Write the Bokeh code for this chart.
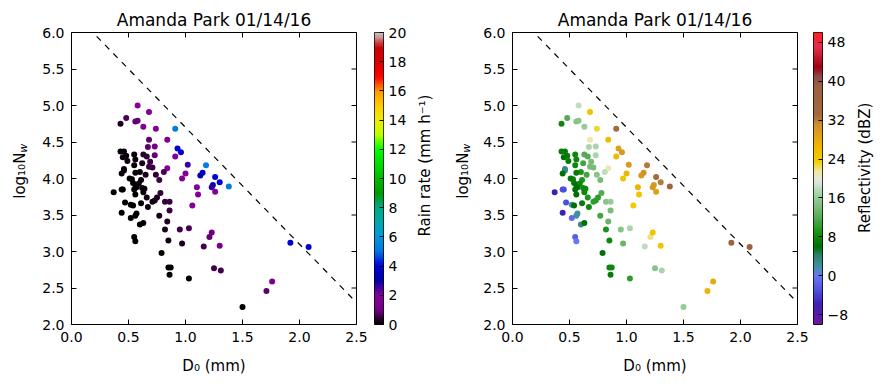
import numpy as np
from bokeh.plotting import figure
from bokeh.models import (ColumnDataSource, LinearColorMapper, FixedTicker,
                          PrintfTickFormatter, CustomJSTickFormatter, Range1d)
from bokeh.core.properties import value
from bokeh.layouts import row
from bokeh.embed import file_html
from bokeh.resources import INLINE

TITLE = "Amanda Park 01/14/16"
Y_LABEL = "log\u2081\u2080N"
Y_LABEL_SUB = "w"
X_LABEL = "D\u2080 (mm)"
RR_LABEL = "Rain rate (mm h\u207b\u00b9)"
Z_LABEL = "Reflectivity (dBZ)"

d0 = [0.58, 0.68, 0.48, 0.43, 0.56, 0.58, 0.63, 0.74, 0.91, 0.68, 0.84, 0.67, 0.73, 0.93, 0.96,
      0.43, 0.46, 0.48, 0.45, 0.49, 0.55, 0.56, 0.63, 0.66, 0.73, 0.91, 0.62, 0.69, 0.68, 0.71,
      0.55, 1.02, 1.18, 0.84, 0.46, 0.46, 0.60, 0.44, 0.56, 0.65, 0.74, 0.81, 1.00, 1.15, 1.13,
      0.51, 0.53, 0.61, 0.77, 0.97, 0.54, 0.56, 0.59, 0.62, 0.64, 0.63, 0.37, 0.44, 0.45, 0.55,
      0.57, 1.10, 1.11, 0.78, 0.56, 0.66, 0.73, 1.26, 1.30, 1.38, 1.24, 1.23, 1.26, 1.06, 0.44,
      0.47, 0.52, 0.54, 0.61, 0.67, 0.71, 0.82, 0.86, 0.52, 0.56, 0.57, 0.60, 0.63, 0.77, 0.86,
      0.84, 0.82, 0.95, 1.03, 0.85, 0.97, 0.55, 0.56, 0.79, 1.21, 1.23, 1.16, 1.30, 1.92, 2.08,
      0.85, 0.87, 0.86, 1.03, 1.25, 1.31, 1.50, 1.71, 1.76, 0.75]

log_nw = [5.00, 4.91, 4.83, 4.75, 4.78, 4.79, 4.71, 4.68, 4.68, 4.53, 4.53, 4.43, 4.44, 4.41, 4.36,
          4.37, 4.37, 4.31, 4.29, 4.24, 4.33, 4.26, 4.33, 4.30, 4.32, 4.30, 4.21, 4.23, 4.16, 4.15,
          4.18, 4.19, 4.18, 4.14, 4.13, 4.11, 4.09, 4.07, 4.08, 4.05, 4.05, 4.09, 4.07, 4.08, 4.04,
          4.00, 3.99, 3.98, 3.98, 4.00, 3.94, 3.91, 3.93, 3.87, 3.86, 3.81, 3.81, 3.85, 3.85, 3.85,
          3.88, 3.88, 3.78, 3.80, 3.78, 3.74, 3.70, 4.02, 3.95, 3.89, 3.91, 3.88, 3.82, 3.63, 3.53,
          3.67, 3.64, 3.63, 3.66, 3.61, 3.68, 3.68, 3.68, 3.46, 3.49, 3.52, 3.37, 3.39, 3.49, 3.56,
          3.41, 3.30, 3.30, 3.32, 3.15, 3.11, 3.20, 3.14, 2.98, 3.20, 3.26, 3.07, 3.08, 3.12, 3.06,
          2.78, 2.78, 2.68, 2.63, 2.77, 2.74, 2.24, 2.46, 2.59, 3.74]

rain_rate = [2.0, 1.8, 0.7, 0.3, 0.8, 0.9, 1.5, 1.7, 5.3, 0.8, 1.6, 0.8, 1.2, 3.8, 3.6,
             0.1, 0.1, 0.1, 0.1, 0.1, 0.1, 0.1, 0.4, 0.4, 0.9, 1.8, 0.3, 0.5, 0.5, 0.5,
             0.1, 2.6, 5.3, 1.8, 0.1, 0.1, 0.1, 0.1, 0.1, 0.3, 0.4, 0.7, 1.8, 3.8, 3.2,
             0.05, 0.05, 0.1, 0.6, 1.8, 0.05, 0.05, 0.1, 0.1, 0.1, 0.1, 0.05, 0.05, 0.05, 0.05,
             0.05, 1.8, 1.8, 0.5, 0.05, 0.2, 0.3, 4.0, 4.0, 5.3, 3.2, 2.8, 1.8, 1.8, 0.05,
             0.05, 0.05, 0.05, 0.05, 0.2, 0.2, 0.5, 0.5, 0.05, 0.05, 0.05, 0.05, 0.05, 0.2, 0.5,
             0.3, 0.3, 0.6, 0.7, 0.2, 0.3, 0.05, 0.05, 0.05, 0.9, 1.0, 0.6, 1.2, 3.8, 3.8,
             0.05, 0.05, 0.05, 0.05, 0.6, 0.6, 0.05, 0.8, 1.3, 0.3]

reflectivity = [18, 25, 12, 8, 15, 15, 16, 23, 33, 21, 26, 17, 17, 29, 30,
                7, 7, 7, 6, 7, 8, 8, 12, 12, 17, 26, 11, 14, 14, 14,
                8, 30, 32, 21, 3, 3, 9, 6, 7, 11, 15, 18, 27, 31, 30,
                7, 7, 9, 14, 25, 7, 6, 8, 8, 8, 8, -6, -3, -3, 6,
                6, 27, 25, 12, 6, 9, 10, 33, 32, 35, 30, 30, 29, 24, -6,
                -3, 2, 6, 7, 8, 10, 15, 16, -1, 2, 2, 3, 6, 11, 14,
                13, 9, 15, 17, 8, 13, -2, 0, 6, 22, 25, 18, 25, 37, 38,
                8, 8, 7, 10, 15, 17, 16, 27, 28, 10]

x_ticks = [0.0, 0.5, 1.0, 1.5, 2.0, 2.5]
y_ticks = [2.0, 2.5, 3.0, 3.5, 4.0, 4.5, 5.0, 5.5, 6.0]
rr_ticks = [0, 2, 4, 6, 8, 10, 12, 14, 16, 18, 20]
z_ticks = [-8, 0, 8, 16, 24, 32, 40, 48]
X_RANGE = (0, 2.5)
Y_RANGE = (2, 6)
RR_RANGE = (0, 20)
Z_RANGE = (-10, 50)
LINE_INTERCEPT = 6.3
LINE_SLOPE = -1.6

FONT = "DejaVu Sans"
H = 384
TOP, BOTTOM = 32, 60
FRAME_H = H - TOP - BOTTOM
FRAME_W = 285

SPECTRAL_STOPS = [
    (0.00, 0.0, 0.0, 0.0), (0.05, 0.4667, 0.0, 0.5333), (0.10, 0.5333, 0.0, 0.6),
    (0.15, 0.0, 0.0, 0.6667), (0.20, 0.0, 0.0, 0.8667), (0.25, 0.0, 0.4667, 0.8667),
    (0.30, 0.0, 0.6, 0.8667), (0.35, 0.0, 0.6667, 0.6667), (0.40, 0.0, 0.6667, 0.5333),
    (0.45, 0.0, 0.6, 0.0), (0.50, 0.0, 0.7333, 0.0), (0.55, 0.0, 0.8667, 0.0),
    (0.60, 0.0, 1.0, 0.0), (0.65, 0.7333, 1.0, 0.0), (0.70, 0.9333, 0.9333, 0.0),
    (0.75, 1.0, 0.8, 0.0), (0.80, 1.0, 0.6, 0.0), (0.85, 1.0, 0.0, 0.0),
    (0.90, 0.8667, 0.0, 0.0), (0.95, 0.8, 0.0, 0.0), (1.00, 0.8, 0.8, 0.8)]


def hx(h):
    h = h.lstrip("#")
    return tuple(int(h[i:i + 2], 16) / 255 for i in (0, 2, 4))


REFL_HEX = [(-10, "#6a1a9a"), (-6, "#4020b0"), (-3, "#5050e0"), (0, "#6a78f0"),
            (2, "#4090a0"), (4, "#308070"), (6, "#007000"), (8.5, "#109010"),
            (12.5, "#60b060"), (16.5, "#a0d0a0"), (19.5, "#e0e8e0"), (21.5, "#f0e8a0"),
            (23.5, "#f0d000"), (26.5, "#f0b800"), (31, "#d09030"), (33, "#a06a40"),
            (39, "#9a6040"), (41, "#8a4a50"), (43, "#a00010"), (47, "#e03050"),
            (50, "#ff2020")]
REFL_STOPS = [((v - Z_RANGE[0]) / (Z_RANGE[1] - Z_RANGE[0]),) + hx(c) for v, c in REFL_HEX]


def build_palette(stops, n=256):
    pos = np.array([s[0] for s in stops])
    t = np.linspace(0, 1, n)
    chans = [np.interp(t, pos, np.array([s[i] for s in stops])) for i in (1, 2, 3)]
    return ["#%02x%02x%02x" % (int(round(r * 255)), int(round(g * 255)), int(round(b * 255)))
            for r, g, b in zip(*chans)]


def style_axis(ax, size="14px"):
    ax.axis_line_color = None
    ax.major_tick_in = 5
    ax.major_tick_out = 0
    ax.minor_tick_line_color = None
    ax.major_tick_line_color = "black"
    ax.major_label_text_font_size = size
    ax.major_label_text_font = FONT
    ax.major_label_text_color = "black"


def scatter_panel(values, mapper, border_left, border_right):
    src = ColumnDataSource(dict(x=d0, y=log_nw, c=values))
    p = figure(frame_width=FRAME_W, frame_height=FRAME_H, output_backend="svg",
               toolbar_location=None, x_range=Range1d(*X_RANGE), y_range=Range1d(*Y_RANGE),
               min_border_left=border_left, min_border_right=border_right,
               min_border_top=TOP, min_border_bottom=BOTTOM, title=TITLE)
    p.title.align = "center"
    p.title.text_font_size = "17px"
    p.title.text_font_style = "normal"
    p.title.text_font = FONT
    p.title.text_color = "black"
    p.title.standoff = 6
    p.outline_line_color = "black"
    p.outline_line_alpha = 1
    p.xgrid.visible = False
    p.ygrid.visible = False
    p.xaxis.ticker = FixedTicker(ticks=x_ticks)
    p.yaxis.ticker = FixedTicker(ticks=y_ticks)
    p.xaxis.formatter = PrintfTickFormatter(format="%.1f")
    p.yaxis.formatter = PrintfTickFormatter(format="%.1f")
    style_axis(p.xaxis[0])
    style_axis(p.yaxis[0])
    p.xaxis.major_label_standoff = 7
    p.yaxis.major_label_standoff = 7
    p.xaxis.axis_label = X_LABEL
    p.xaxis.axis_label_text_font_style = "normal"
    p.xaxis.axis_label_text_font_size = "15px"
    p.xaxis.axis_label_text_font = FONT
    p.xaxis.axis_label_text_color = "black"
    p.xaxis.axis_label_standoff = 12
    # inward tick marks on the top and right edges
    p.scatter(x_ticks, [Y_RANGE[1]] * len(x_ticks), marker="dash", angle=np.pi / 2, size=10,
              line_color="black", line_width=1)
    p.scatter([X_RANGE[1]] * len(y_ticks), y_ticks, marker="dash", size=10,
              line_color="black", line_width=1)
    lx = np.array(X_RANGE)
    p.line(lx, LINE_INTERCEPT + LINE_SLOPE * lx, line_color="black", line_dash="6 6",
           line_width=1.2)
    p.scatter("x", "y", source=src, size=6, line_color=None,
              fill_color={"field": "c", "transform": mapper})
    return p


def colorbar_fig(mapper, vrange, ticks, formatter, border_left, border_right):
    cb = figure(frame_width=9, frame_height=FRAME_H, output_backend="svg", toolbar_location=None,
                x_range=Range1d(0, 1), y_range=Range1d(*vrange), x_axis_type=None,
                y_axis_location="right", min_border_left=border_left,
                min_border_right=border_right, min_border_top=TOP, min_border_bottom=BOTTOM)
    grad = np.linspace(vrange[0], vrange[1], 256).reshape(256, 1)
    cb.image(image=[grad], x=0, y=vrange[0], dw=1, dh=vrange[1] - vrange[0], color_mapper=mapper)
    cb.outline_line_color = "black"
    cb.grid.visible = False
    cb.yaxis.ticker = FixedTicker(ticks=ticks)
    cb.yaxis.formatter = formatter
    style_axis(cb.yaxis[0])
    cb.yaxis.major_tick_in = 4
    cb.yaxis.major_label_standoff = 5
    return cb


def text_fig(width, items):
    f = figure(width=width, height=H, output_backend="svg", toolbar_location=None,
               x_range=Range1d(0, width), y_range=Range1d(0, H), x_axis_type=None,
               y_axis_type=None, min_border=0)
    f.outline_line_color = None
    f.grid.visible = False
    for (x, y_from_top, txt, size, align, style) in items:
        f.text(x=[x], y=[H - y_from_top], text=[txt], angle=np.pi / 2,
               text_font=value(FONT), text_font_size=value(size), text_align=align,
               text_baseline="middle", text_font_style=style, text_color="black")
    return f


rr_mapper = LinearColorMapper(palette=build_palette(SPECTRAL_STOPS), low=RR_RANGE[0],
                              high=RR_RANGE[1])
z_mapper = LinearColorMapper(palette=build_palette(REFL_STOPS), low=Z_RANGE[0], high=Z_RANGE[1])

ylab_a = text_fig(36, [(19, 158, Y_LABEL, "15px", "right", "normal"),
                       (23, 158, Y_LABEL_SUB, "11px", "left", "italic")])
p1 = scatter_panel(rain_rate, rr_mapper, 35, 12)
cb1 = colorbar_fig(rr_mapper, RR_RANGE, rr_ticks, PrintfTickFormatter(format="%d"), 6, 29)
mid = text_fig(60, [(12, 175, RR_LABEL, "15px", "center", "normal"),
                    (50, 158, Y_LABEL, "15px", "right", "normal"),
                    (54, 158, Y_LABEL_SUB, "11px", "left", "italic")])
p2 = scatter_panel(reflectivity, z_mapper, 40, 12)
zfmt = CustomJSTickFormatter(code="return tick < 0 ? '\u2212' + Math.abs(tick) : '' + tick;")
cb2 = colorbar_fig(z_mapper, Z_RANGE, z_ticks, zfmt, 4, 29)
ylab_c = text_fig(33, [(13, 178, Z_LABEL, "15px", "center", "normal")])

layout = row(ylab_a, p1, cb1, mid, p2, cb2, ylab_c, spacing=0)
open("out.html", "w").write(file_html(layout, INLINE))
